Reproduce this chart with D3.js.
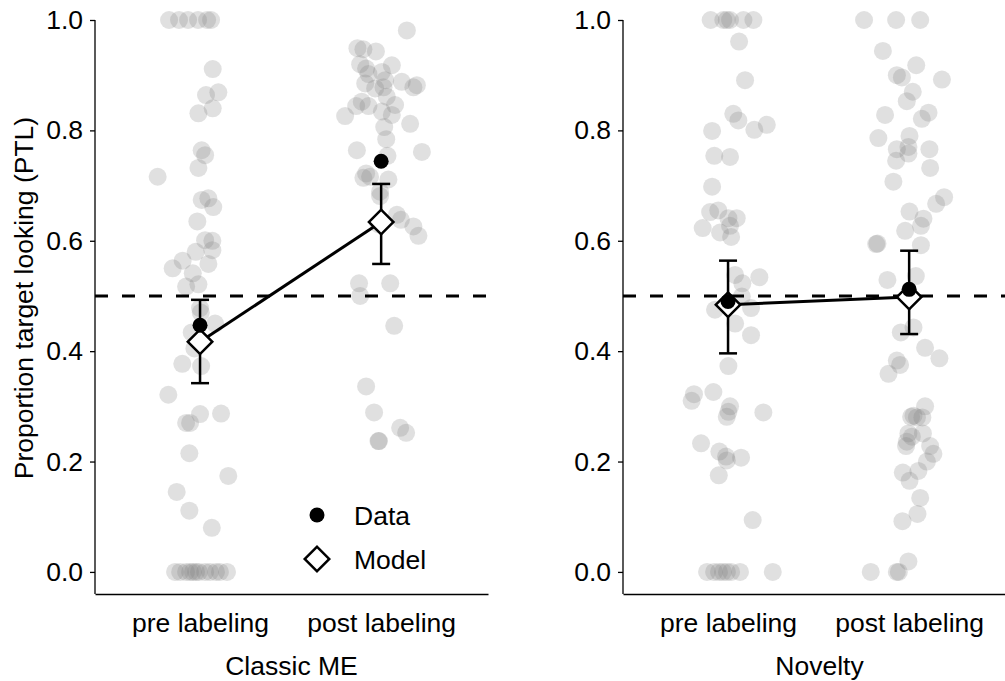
<!DOCTYPE html>
<html>
<head>
<meta charset="utf-8">
<script src="https://cdn.jsdelivr.net/npm/d3@7"></script>
<style>
  html, body { margin: 0; padding: 0; background: #fff; }
  svg { display: block; font-family: "Liberation Sans", Arial, Helvetica, sans-serif; }
</style>
</head>
<body>
<svg id="chart" width="1005" height="681"></svg>
<script>
// ---------------- DATA ----------------
const conditions = ["Classic ME", "Novelty"];
const phases = ["pre labeling", "post labeling"];
const yTicks = [0, 0.2, 0.4, 0.6, 0.8, 1.0];
const chanceLevel = 0.5;

// group means of the data (per condition: [pre, post])
const dataMeans = [[0.447, 0.744], [0.490, 0.512]];
// model estimates and intervals
const modelMeans = [[0.417, 0.634], [0.484, 0.498]];
const modelLower = [[0.342, 0.558], [0.396, 0.431]];
const modelUpper = [[0.493, 0.703], [0.564, 0.582]];

// individual participants: [PTL value, horizontal jitter in category units]
const classicPre = [
  [1,-0.171],[1,-0.116],[1,-0.066],[1,-0.011],[1,0.039],[1,0.061],
  [0.911,0.070],[0.864,0.033],[0.869,0.101],[0.840,0.070],[0.831,-0.009],
  [0.764,0.009],[0.755,0.028],[0.732,-0.009],[0.716,-0.234],[0.677,0.046],
  [0.661,0.073],[0.674,0.009],[0.635,-0.015],[0.601,0.028],[0.600,0.068],
  [0.583,0.068],[0.580,-0.024],[0.564,-0.096],[0.550,-0.151],[0.558,0.046],
  [0.541,-0.040],[0.517,-0.077],[0.521,-0.009],[0.478,0.000],[0.470,0.004],
  [0.450,0.083],[0.434,-0.046],[0.405,-0.031],[0.377,-0.098],[0.373,0.006],
  [0.321,-0.175],[0.286,0.000],[0.287,0.116],[0.270,-0.077],[0.270,-0.055],
  [0.215,-0.059],[0.174,0.156],[0.145,-0.129],[0.111,-0.059],[0.080,0.065],
  [0,-0.138],[0,-0.110],[0,-0.077],[0,-0.055],[0,-0.039],[0,-0.022],
  [0,-0.006],[0,0.028],[0,0.055],[0,0.088],[0,0.110],[0,0.149]
];
const classicPost = [
  [0.981,0.142],[0.949,-0.131],[0.947,-0.098],[0.943,-0.029],[0.920,-0.116],
  [0.912,-0.083],[0.918,0.059],[0.902,-0.070],[0.906,0.004],[0.891,0.022],
  [0.888,0.114],[0.882,0.197],[0.878,0.178],[0.885,-0.088],[0.876,-0.033],
  [0.878,0.013],[0.861,0.031],[0.852,-0.107],[0.844,-0.138],[0.844,-0.070],
  [0.846,0.077],[0.826,-0.199],[0.834,0.004],[0.828,0.059],[0.812,0.160],
  [0.806,0.017],[0.784,0.028],[0.764,-0.134],[0.761,0.225],[0.754,0.035],
  [0.722,-0.083],[0.716,-0.061],[0.714,-0.098],[0.711,0.040],[0.689,-0.006],
  [0.681,-0.006],[0.647,0.087],[0.638,0.109],[0.630,-0.015],[0.626,0.178],
  [0.609,0.206],[0.523,-0.122],[0.523,0.050],[0.500,-0.116],[0.446,0.072],
  [0.336,-0.083],[0.289,-0.039],[0.261,0.105],[0.252,0.138],[0.237,-0.015],
  [0.237,-0.012]
];
const noveltyPre = [
  [1,-0.096],[1,-0.026],[1,-0.007],[1,0.011],[1,0.085],[1,0.140],
  [0.961,0.061],[0.891,0.094],[0.830,0.029],[0.818,0.057],[0.801,0.145],
  [0.810,0.214],[0.799,-0.088],[0.754,-0.076],[0.752,0.011],[0.698,-0.088],
  [0.652,-0.099],[0.655,-0.054],[0.641,0.002],[0.641,0.048],[0.623,-0.140],
  [0.615,-0.044],[0.627,0.011],[0.607,0.017],[0.538,0.039],[0.534,0.173],
  [0.523,0.079],[0.499,0.076],[0.475,-0.072],[0.478,0.127],[0.450,0.039],
  [0.429,0.127],[0.373,0.002],[0.322,-0.188],[0.310,-0.201],[0.326,-0.081],
  [0.300,0.011],[0.290,0.002],[0.281,-0.007],[0.289,0.195],[0.233,-0.149],
  [0.218,-0.048],[0.209,-0.011],[0.202,-0.007],[0.207,0.072],[0.175,-0.051],
  [0.094,0.136],
  [0,-0.116],[0,-0.077],[0,-0.050],[0,-0.028],[0,-0.006],[0,0.017],
  [0,0.066],[0,0.247]
];
const noveltyPost = [
  [1,-0.249],[1,-0.072],[1,0.061],[0.944,-0.145],[0.918,0.039],[0.900,-0.068],
  [0.896,-0.040],[0.892,0.181],[0.870,0.020],[0.853,-0.013],[0.832,0.107],
  [0.821,0.070],[0.828,-0.133],[0.786,-0.170],[0.790,0.002],[0.766,-0.068],
  [0.770,-0.004],[0.758,-0.004],[0.766,0.112],[0.745,-0.072],[0.732,0.116],
  [0.707,-0.087],[0.679,0.193],[0.667,0.149],[0.653,0.002],[0.640,0.079],
  [0.627,0.065],[0.618,-0.022],[0.595,-0.175],[0.594,-0.182],[0.592,0.065],
  [0.536,0.037],[0.529,-0.120],[0.443,0.024],[0.434,-0.046],[0.406,0.088],
  [0.387,0.167],[0.383,-0.068],[0.375,-0.050],[0.359,-0.114],[0.300,0.088],
  [0.281,0.011],[0.280,0.043],[0.280,0.073],[0.283,0.024],[0.251,0.076],
  [0.251,-0.004],[0.245,0.015],[0.236,-0.013],[0.228,-0.017],[0.228,0.116],
  [0.214,0.134],[0.200,0.098],[0.180,-0.035],[0.183,0.051],[0.165,0.002],
  [0.134,0.061],[0.105,0.046],[0.092,-0.037],[0.019,-0.004],
  [0,-0.212],[0,-0.068],[0,-0.057]
];
const participants = [[classicPre, classicPost], [noveltyPre, noveltyPost]];
const legendItems = ["Data", "Model"];

// ---------------- LAYOUT ----------------
const svg = d3.select("#chart");
const FS = 26.5;
const panelLeft = [95, 623];
const panelWidth = 393;
const panelTop = 20, panelBottom = 594;

const y = d3.scaleLinear().domain([-0.04, 1.0]).range([panelBottom, panelTop]);

conditions.forEach((cond, ci) => {
  const x0 = panelLeft[ci];
  const x = d3.scaleLinear().domain([-0.58, 1.59]).range([x0, x0 + panelWidth]);
  const g = svg.append("g");

  // individual points
  participants[ci].forEach((pts, pi) => {
    g.append("g").selectAll("circle").data(pts).join("circle")
      .attr("cx", d => x(pi + d[1]))
      .attr("cy", d => y(d[0]))
      .attr("r", 9)
      .attr("fill", "#7f7f7f")
      .attr("fill-opacity", 0.24);
  });

  // chance line
  g.append("line")
    .attr("x1", x.range()[0]).attr("x2", x.range()[1])
    .attr("y1", y(chanceLevel)).attr("y2", y(chanceLevel))
    .attr("stroke", "#000").attr("stroke-width", 3)
    .attr("stroke-dasharray", "13,14");

  // axes
  const yAxis = d3.axisLeft(y).tickValues(yTicks).tickFormat(d3.format(".1f"))
    .tickSize(5).tickSizeOuter(0).tickPadding(7);
  const ya = g.append("g").attr("transform", `translate(${x0},0)`).call(yAxis);
  ya.select(".domain").attr("d", `M0,${y(1)}V${panelBottom}`).attr("stroke-width", 1.3);
  ya.selectAll(".tick line").attr("stroke-width", 1.3);
  ya.selectAll("text").attr("font-size", FS).attr("fill", "#000")
    .attr("font-family", "Liberation Sans, Arial, sans-serif");

  const xAxis = d3.axisBottom(x).tickValues([0, 1]).tickFormat((d, i) => phases[i])
    .tickSize(0).tickSizeOuter(0);
  const xa = g.append("g").attr("transform", `translate(0,${panelBottom})`).call(xAxis);
  xa.select(".domain").attr("stroke-width", 1.3);
  xa.selectAll("text").attr("font-size", FS).attr("fill", "#000")
    .attr("dy", null).attr("y", 38)
    .attr("font-family", "Liberation Sans, Arial, sans-serif");

  // condition title
  g.append("text")
    .attr("x", x0 + panelWidth / 2).attr("y", 675)
    .attr("text-anchor", "middle").attr("font-size", FS)
    .text(cond);

  // error bars
  [0, 1].forEach(pi => {
    const xc = x(pi);
    const eb = g.append("g").attr("stroke", "#000").attr("stroke-width", 2.5);
    eb.append("line").attr("x1", xc).attr("x2", xc)
      .attr("y1", y(modelLower[ci][pi])).attr("y2", y(modelUpper[ci][pi]));
    [modelLower[ci][pi], modelUpper[ci][pi]].forEach(v => {
      eb.append("line").attr("x1", xc - 9).attr("x2", xc + 9)
        .attr("y1", y(v)).attr("y2", y(v));
    });
  });

  // model line
  g.append("path")
    .datum(modelMeans[ci])
    .attr("d", d3.line().x((d, i) => x(i)).y(d => y(d)))
    .attr("fill", "none").attr("stroke", "#000").attr("stroke-width", 3);

  // model diamonds
  g.append("g").selectAll("path").data(modelMeans[ci]).join("path")
    .attr("transform", (d, i) => `translate(${x(i)},${y(d)}) rotate(45)`)
    .attr("d", d3.symbol().type(d3.symbolSquare).size(300))
    .attr("fill", "#fff").attr("stroke", "#000").attr("stroke-width", 2.5);

  // data means
  g.append("g").selectAll("circle").data(dataMeans[ci]).join("circle")
    .attr("cx", (d, i) => x(i)).attr("cy", d => y(d)).attr("r", 7.5)
    .attr("fill", "#000");
});

// y-axis title
svg.append("text")
  .attr("transform", `translate(33,298) rotate(-90)`)
  .attr("text-anchor", "middle").attr("font-size", FS)
  .text("Proportion target looking (PTL)");

// legend
const leg = svg.append("g");
leg.append("circle").attr("cx", 317).attr("cy", 515).attr("r", 7.5).attr("fill", "#000");
leg.append("path")
  .attr("transform", "translate(317,559) rotate(45)")
  .attr("d", d3.symbol().type(d3.symbolSquare).size(300))
  .attr("fill", "#fff").attr("stroke", "#000").attr("stroke-width", 2.5);
leg.selectAll("text").data(legendItems).join("text")
  .attr("x", 354).attr("y", (d, i) => 525 + i * 44)
  .attr("font-size", FS).text(d => d);
</script>
</body>
</html>
